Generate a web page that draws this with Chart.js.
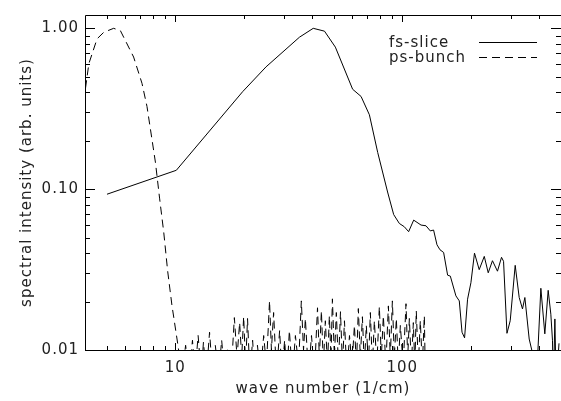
<!DOCTYPE html>
<html>
<head>
<meta charset="utf-8">
<script src="https://cdn.jsdelivr.net/npm/chart.js@4"></script>
<style>
  html, body { margin:0; padding:0; background:#fff; }
  #wrap { width:561px; height:401px; }
</style>
</head>
<body>
<div id="wrap"><canvas id="chart" width="561" height="401"></canvas></div>
<script>
// fs-slice spectrum (solid line)
const fsWave = [5.0, 10.1, 19.8, 25.1, 35.2, 40.5, 45.4, 50.7, 60.4, 65.8, 71.6, 77.9, 86.1, 91.6, 97.0, 102,
  106.6, 112.2, 120.9, 127.1, 132.8, 137.3, 142.1, 146.5, 152, 158.3, 162.7, 172.2, 178.2, 183.2, 188, 193.8,
  200.5, 207.9, 218.1, 229.6, 239, 249.5, 262.5, 273.5, 279.2, 289, 298.7, 314.2, 327.2, 338.3, 346.6, 362.1,
  372.3, 389, 407.6, 424.3, 439, 451, 458.6, 463, 469.9, 476, 490];
const fsInt = [0.093, 0.131, 0.404, 0.576, 0.88, 1.0, 0.96, 0.764, 0.418, 0.377, 0.29, 0.169, 0.096, 0.0695, 0.0612, 0.0584,
  0.0544, 0.0642, 0.0598, 0.0592, 0.055, 0.0557, 0.0451, 0.042, 0.0404, 0.0292, 0.0288, 0.0217, 0.0202, 0.0129, 0.0119, 0.0207,
  0.0262, 0.04, 0.0316, 0.0382, 0.0302, 0.0359, 0.0309, 0.0377, 0.0356, 0.0127, 0.0152, 0.0336, 0.0212, 0.018, 0.0212, 0.0117,
  0.0099, 0.006, 0.0242, 0.0126, 0.0235, 0.0167, 0.0115, 0.006, 0.0156, 0.006, 0.011];

// ps-bunch spectrum (dashed line)
const psWave = [4.02, 4.16, 4.52, 4.84, 5.35, 5.73, 6.55, 7.13, 7.5, 7.89, 8.17, 8.53, 8.89, 9.25, 9.66, 10.3, 10.7,
  11.1, 11.5, 11.9, 12.2, 12.6, 13.0, 13.3, 13.7, 14.15, 14.6, 15.0, 15.5, 16.0, 16.5, 17.0, 17.6, 18.2, 18.7, 19.2, 19.6,
  20.0, 20.4, 20.8, 21.3, 21.9, 22.4, 23.0, 23.7, 24.5, 25.2, 26.0, 26.5, 27.1, 27.9, 28.8, 29.5, 30.3, 31.0, 31.8, 32.8,
  33.8, 34.9, 35.9, 36.7, 37.4, 38.6, 39.8, 41.0, 42.3, 43.1, 44.0, 44.9, 45.8, 46.8, 47.7, 48.5, 49.2, 50.2, 51.2, 52.3,
  53.4, 54.5, 55.6, 57.0, 58.5, 60.0, 61.5, 62.8, 64.0, 65.3, 66.7, 68.0, 69.4, 70.9, 72.3, 73.8, 75.3, 77.2, 79.2, 80.8,
  82.5, 84.6, 86.8, 88.5, 90.4, 92.2, 94.1, 96.0, 98.0, 100.9, 103.8, 105.6, 107.4, 109.6, 111.8, 113.5, 115.2, 117.6,
  120.0, 122.5, 125.0, 126.5];
const psInt = [0.424, 0.603, 0.86, 0.945, 1.0, 0.966, 0.663, 0.455, 0.327, 0.204, 0.147, 0.087, 0.054, 0.031, 0.019, 0.0104, 0.007,
  0.0107, 0.007, 0.0115, 0.007, 0.0123, 0.007, 0.0112, 0.007, 0.0129, 0.007, 0.0107, 0.007, 0.0115, 0.007, 0.0102, 0.007, 0.0159, 0.009, 0.0148, 0.009,
  0.0161, 0.008, 0.0157, 0.007, 0.0115, 0.007, 0.0107, 0.007, 0.0123, 0.008, 0.0202, 0.010, 0.0171, 0.007, 0.0132, 0.007, 0.0115, 0.007, 0.0132, 0.007,
  0.0123, 0.008, 0.0202, 0.010, 0.0157, 0.007, 0.0123, 0.007, 0.0183, 0.009, 0.0175, 0.008, 0.0152, 0.008, 0.0163, 0.009, 0.0208, 0.009, 0.0171, 0.008,
  0.0173, 0.008, 0.0152, 0.007, 0.0123, 0.008, 0.0142, 0.008, 0.0181, 0.009, 0.0161, 0.008, 0.0142, 0.008, 0.0171, 0.008, 0.0152, 0.008, 0.0186, 0.009,
  0.0163, 0.008, 0.0188, 0.009, 0.0202, 0.009, 0.0157, 0.008, 0.0142, 0.008, 0.0194, 0.009, 0.0157, 0.008, 0.0148, 0.008, 0.0175, 0.008,
  0.0152, 0.008, 0.0163, 0.006];

// axes
const xTickVals = [10, 100];
const xTickLabels = ['10', '100'];
const xMinor = [5, 6, 7, 8, 9, 20, 30, 40, 50, 60, 70, 80, 90, 200, 300, 400];
const yTickVals = [0.01, 0.1, 1];
const yTickLabels = ['0.01', '0.10', '1.00'];
const yMinor = [0.02, 0.03, 0.04, 0.05, 0.06, 0.07, 0.08, 0.09, 0.2, 0.3, 0.4, 0.5, 0.6, 0.7, 0.8, 0.9];

const INK = '#000';
const TEXT = '#222';
const FONT = { family: '"DejaVu Sans", sans-serif', size: 15 };

const pts = (xs, ys) => xs.map((x, i) => ({ x, y: ys[i] }));

// spacing like the IDL vector font
const spacing = {
  id: 'spacing',
  beforeDraw(chart) { chart.ctx.letterSpacing = '1px'; }
};

// box + inward ticks on all four sides
const frame = {
  id: 'frame',
  afterDatasetsDraw(chart) {
    const { ctx, chartArea: a, scales: { x, y } } = chart;
    ctx.save();
    ctx.strokeStyle = INK;
    ctx.lineWidth = 1;
    ctx.beginPath();
    ctx.rect(a.left + 0.5, a.top + 0.5, a.right - a.left, a.bottom - a.top);
    const xt = (v, len) => {
      const px = Math.round(x.getPixelForValue(v)) + 0.5;
      ctx.moveTo(px, a.bottom); ctx.lineTo(px, a.bottom - len);
      ctx.moveTo(px, a.top); ctx.lineTo(px, a.top + len);
    };
    const yt = (v, len) => {
      const py = Math.round(y.getPixelForValue(v)) + 0.5;
      ctx.moveTo(a.left, py); ctx.lineTo(a.left + len, py);
      ctx.moveTo(a.right, py); ctx.lineTo(a.right - len, py);
    };
    xTickVals.forEach(v => xt(v, 7));
    xMinor.forEach(v => xt(v, 4));
    yTickVals.forEach(v => yt(v, 10));
    yMinor.forEach(v => yt(v, 5));
    ctx.stroke();
    ctx.restore();
  }
};

// legend: label on the left, line sample on the right
const legendBox = {
  id: 'legendBox',
  afterDraw(chart) {
    const { ctx, chartArea: a } = chart;
    ctx.save();
    ctx.letterSpacing = '1px';
    ctx.font = '15px "DejaVu Sans", sans-serif';
    ctx.fillStyle = TEXT;
    ctx.textAlign = 'left';
    ctx.textBaseline = 'alphabetic';
    ctx.strokeStyle = INK;
    ctx.lineWidth = 1;
    chart.data.datasets.forEach((ds, i) => {
      const base = a.top + 32 + i * 15;
      ctx.fillText(ds.label, 389, base);
      ctx.setLineDash(ds.borderDash || []);
      ctx.beginPath();
      ctx.moveTo(479, Math.round(base - 5) + 0.5);
      ctx.lineTo(537, Math.round(base - 5) + 0.5);
      ctx.stroke();
    });
    ctx.restore();
  }
};

new Chart(document.getElementById('chart'), {
  type: 'line',
  data: {
    datasets: [
      { label: 'fs-slice', data: pts(fsWave, fsInt), borderColor: INK, borderWidth: 1,
        pointRadius: 0, tension: 0, fill: false },
      { label: 'ps-bunch', data: pts(psWave, psInt), borderColor: INK, borderWidth: 1,
        borderDash: [8, 5], pointRadius: 0, tension: 0, fill: false }
    ]
  },
  options: {
    responsive: false,
    animation: false,
    events: [],
    layout: { padding: { top: 11, right: 0, left: 0, bottom: 0 } },
    plugins: { legend: { display: false }, tooltip: { enabled: false } },
    scales: {
      x: {
        type: 'logarithmic', position: 'bottom', min: 4, max: 500, bounds: 'data',
        afterFit: s => { s.height = 51; },
        afterBuildTicks: s => { s.ticks = xTickVals.map(v => ({ value: v })); },
        grid: { display: false, drawTicks: false },
        border: { display: false },
        ticks: { autoSkip: false, maxRotation: 0, padding: 9, color: TEXT, font: FONT,
          callback: v => xTickLabels[xTickVals.indexOf(v)] ?? '' },
        title: { display: true, text: 'wave number (1/cm)', color: TEXT, font: FONT,
          padding: { top: 0, bottom: 3 } }
      },
      y: {
        type: 'logarithmic', position: 'left', min: 0.01, max: 1.21, bounds: 'data',
        afterFit: s => { s.width = 85; },
        afterBuildTicks: s => { s.ticks = yTickVals.map(v => ({ value: v })); },
        grid: { display: false, drawTicks: false },
        border: { display: false },
        ticks: { autoSkip: false, padding: 6, color: TEXT, font: FONT,
          callback: v => yTickLabels[yTickVals.indexOf(v)] ?? '' },
        title: { display: true, text: 'spectral intensity (arb. units)', color: TEXT, font: FONT,
          padding: { top: 18, bottom: 0 } }
      }
    }
  },
  plugins: [spacing, frame, legendBox]
});
</script>
</body>
</html>
